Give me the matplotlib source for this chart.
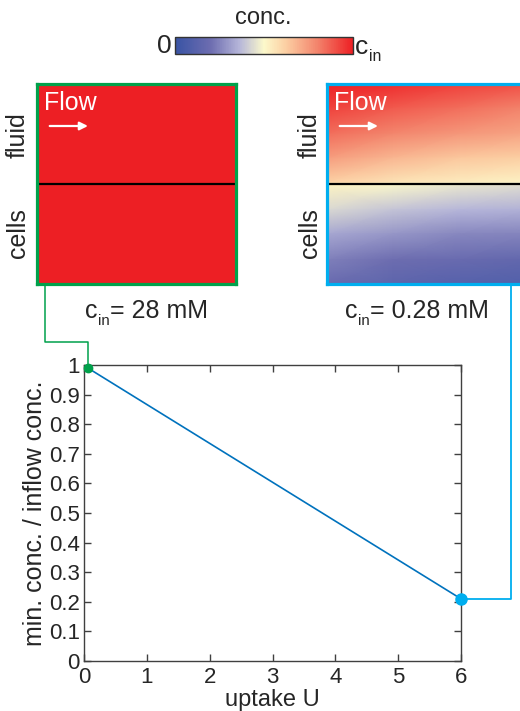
import numpy as np
import matplotlib
matplotlib.use('agg')
import matplotlib.pyplot as plt
from matplotlib.colors import LinearSegmentedColormap, Normalize
from matplotlib.cm import ScalarMappable
from matplotlib.lines import Line2D

plt.rcParams['font.family'] = ['Liberation Sans', 'DejaVu Sans']

# data
uptake = [0.06, 6.0]
min_conc = [0.99, 0.21]
xticks = [0, 1, 2, 3, 4, 5, 6]
yticks = [0, 0.1, 0.2, 0.3, 0.4, 0.5, 0.6, 0.7, 0.8, 0.9, 1]
ytick_labels = ['0', '0.1', '0.2', '0.3', '0.4', '0.5', '0.6', '0.7', '0.8', '0.9', '1']

# concentration field (rows top -> bottom, cols left -> right)
field_x = [0.0, 0.33, 0.67, 1.0]
field_depth = [0.0, 0.12, 0.25, 0.37, 0.49, 0.51, 0.63, 0.75, 0.88, 1.0]
field_low = np.array([
    [1.00, 0.97, 0.93, 0.90],
    [0.93, 0.88, 0.84, 0.80],
    [0.84, 0.79, 0.75, 0.72],
    [0.74, 0.68, 0.64, 0.62],
    [0.62, 0.57, 0.54, 0.52],
    [0.52, 0.49, 0.46, 0.44],
    [0.43, 0.39, 0.36, 0.35],
    [0.33, 0.29, 0.26, 0.25],
    [0.24, 0.20, 0.18, 0.16],
    [0.18, 0.14, 0.11, 0.10],
])
field_high = np.ones_like(field_low)

cmap = LinearSegmentedColormap.from_list('conc', [
    (0.0, '#3953a4'), (0.2, '#6d6db0'), (0.36, '#b5b5d9'),
    (0.5, '#fcf9cb'), (0.62, '#fcd0a4'), (0.8, '#f3846c'), (1.0, '#ed1f24')])
norm = Normalize(0, 1)

W, H = 520, 711
fig = plt.figure(figsize=(5.2, 7.11), dpi=100)
TXT = '#262626'

def fx(px):
    return px / W

def fy(py):
    return 1 - py / H

def cin_text(x0, y0, rest, size):
    # "c" with a lowered small "in", then the rest of the label
    renderer = fig.canvas.get_renderer()
    t = fig.text(fx(x0), fy(y0), 'c', ha='left', va='baseline', fontsize=size, color=TXT)
    w = t.get_window_extent(renderer).width
    s = fig.text(fx(x0 + w + 0.5), fy(y0 + 7), 'in', ha='left', va='baseline',
                 fontsize=size * 0.6, color=TXT)
    ws = s.get_window_extent(renderer).width
    if rest:
        fig.text(fx(x0 + w + ws + 1), fy(y0), rest, ha='left', va='baseline',
                 fontsize=size, color=TXT)

# colorbar
cax = fig.add_axes([fx(175), fy(54), fx(178), 17 / H])
cb = fig.colorbar(ScalarMappable(norm=norm, cmap=cmap), cax=cax, orientation='horizontal')
cb.set_ticks([])
cb.outline.set_edgecolor('#333333')
cb.outline.set_linewidth(1)
fig.text(fx(263), fy(18), 'conc.', ha='center', va='center', fontsize=17, color=TXT)
fig.text(fx(172), fy(46), '0', ha='right', va='center', fontsize=19, color=TXT)
cin_text(355, 54, '', 19)

panels = [
    (37, field_high, '#00a14b', '= 28 mM', 85, 18),
    (327, field_low, '#00aeef', '= 0.28 mM', 345, 310),
]
for left, field, col, label, lx, tx in panels:
    pax = fig.add_axes([fx(left), fy(284), fx(199), 200 / H])
    pax.pcolormesh(field_x, field_depth, field, cmap=cmap, norm=norm, shading='gouraud')
    pax.set_xlim(0, 1)
    pax.set_ylim(1, 0)
    pax.set_xticks([])
    pax.set_yticks([])
    for s in pax.spines.values():
        s.set_edgecolor(col)
        s.set_linewidth(2.3)
    pax.axhline(0.5, color='black', lw=1.6)
    pax.text(0.035, 0.905, 'Flow', transform=pax.transAxes, color='white', fontsize=18,
             ha='left', va='center')
    pax.annotate('', xy=(0.27, 0.79), xytext=(0.05, 0.79), xycoords='axes fraction',
                 arrowprops=dict(arrowstyle='-|>', color='white', lw=1.6, mutation_scale=12))
    fig.text(fx(tx), fy(135), 'fluid', rotation=90, ha='center', va='center', fontsize=18, color=TXT)
    fig.text(fx(tx), fy(233), 'cells', rotation=90, ha='center', va='center', fontsize=18, color=TXT)
    cin_text(lx, 318, label, 18)

# main plot
ax = fig.add_axes([fx(84), fy(661), fx(377), 296 / H])
ax.plot(uptake, min_conc, color='#0072bd', lw=1.2, zorder=3)
ax.plot(uptake[0], min_conc[0], 'o', color='#00a14b', ms=6, clip_on=False, zorder=5)
ax.plot(uptake[1], min_conc[1], 'o', color='#00aeef', ms=8, clip_on=False, zorder=5)
ax.set_xlim(0, 6)
ax.set_ylim(0, 1)
ax.set_xticks(xticks)
ax.set_yticks(yticks)
ax.set_yticklabels(ytick_labels)
ax.tick_params(direction='in', top=True, right=True, length=5, width=1, labelsize=16,
               colors='#404040', labelcolor=TXT)
ax.tick_params(axis='y', pad=3)
ax.tick_params(axis='x', pad=4)
for s in ax.spines.values():
    s.set_edgecolor('#404040')
    s.set_linewidth(1)
ax.set_xlabel('uptake U', fontsize=17, color=TXT, labelpad=1)
ax.set_ylabel('min. conc. / inflow conc.', fontsize=18, color=TXT, labelpad=1)

# connectors from the panels to the points
fig.canvas.draw()
inv = fig.transFigure.inverted()
gx, gy = inv.transform(ax.transData.transform((uptake[0], min_conc[0])))
bx, by = inv.transform(ax.transData.transform((uptake[1], min_conc[1])))
fig.add_artist(Line2D([fx(45), fx(45), gx, gx], [fy(284), fy(342), fy(342), gy],
                      transform=fig.transFigure, color='#00a14b', lw=1.1, zorder=1))
fig.add_artist(Line2D([fx(511), fx(511), bx], [fy(285), by, by],
                      transform=fig.transFigure, color='#00aeef', lw=1.3, zorder=1))

fig.savefig('out.png', dpi=100)
